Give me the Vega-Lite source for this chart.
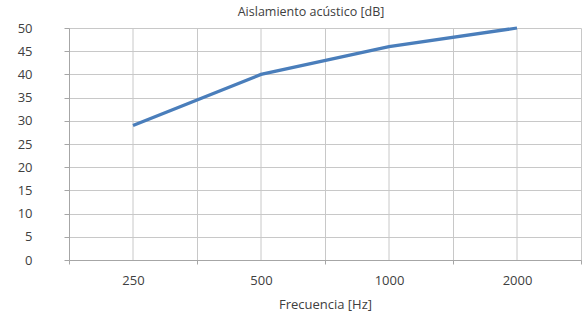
{
  "$schema": "https://vega.github.io/schema/vega-lite/v6.json",
  "width": 512,
  "height": 232,
  "autosize": "none",
  "padding": {"left": 69, "top": 28, "right": 7, "bottom": 56},
  "background": "white",
  "config": {
    "view": {"stroke": null},
    "font": "Open Sans",
    "axis": {
      "labelFont": "Open Sans",
      "titleFont": "Open Sans",
      "labelColor": "#404040",
      "titleColor": "#404040",
      "labelFontSize": 13,
      "titleFontSize": 13,
      "titleFontWeight": "normal",
      "domainColor": "#a6a6a6",
      "tickColor": "#a6a6a6",
      "gridColor": "#c8c8c8"
    }
  },
  "title": {
    "text": "Aislamiento acústico [dB]",
    "font": "Open Sans",
    "fontSize": 12.5,
    "fontWeight": "normal",
    "color": "#404040",
    "anchor": "middle",
    "dx": -14,
    "offset": 3
  },
  "data": {
    "values": [
      {"frecuencia": "250", "db": 29},
      {"frecuencia": "500", "db": 40},
      {"frecuencia": "1000", "db": 46},
      {"frecuencia": "2000", "db": 50}
    ]
  },
  "encoding": {
    "x": {
      "field": "frecuencia",
      "type": "ordinal",
      "sort": null,
      "scale": {"type": "band", "paddingInner": 0, "paddingOuter": 0},
      "axis": {
        "title": "Frecuencia [Hz]",
        "labelAngle": 0,
        "tickBand": "extent",
        "grid": true,
        "tickSize": 4,
        "labelPadding": 10,
        "titlePadding": 11
      }
    }
  },
  "layer": [
    {
      "mark": {"type": "rule", "color": "#c8c8c8", "strokeWidth": 1},
      "encoding": {}
    },
    {
      "mark": {"type": "line", "color": "#4a7ebb", "strokeWidth": 3.25},
      "encoding": {
        "y": {
          "field": "db",
          "type": "quantitative",
          "scale": {"domain": [0, 50], "nice": false},
          "axis": {
            "title": null,
            "values": [0, 5, 10, 15, 20, 25, 30, 35, 40, 45, 50],
            "tickSize": 5,
            "labelPadding": 32,
            "grid": true
          }
        }
      }
    }
  ]
}
